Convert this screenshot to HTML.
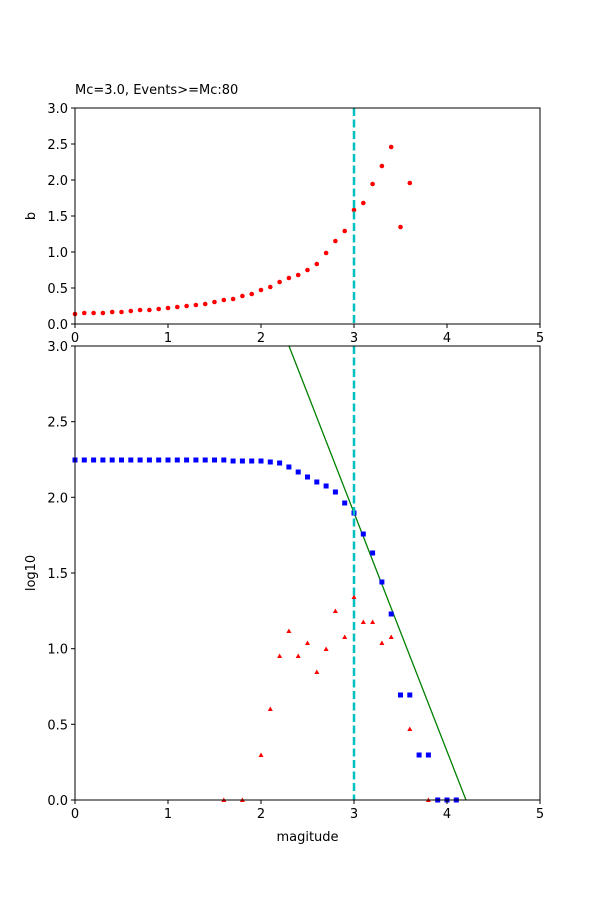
<!DOCTYPE html>
<html><head><meta charset="utf-8"><style>body{margin:0;background:#fff}svg{display:block}text{font-family:"DejaVu Sans","Liberation Sans",sans-serif;font-size:13px;fill:#000}</style></head><body>
<svg width="600" height="900" viewBox="0 0 600 900" xmlns="http://www.w3.org/2000/svg">
<rect width="600" height="900" fill="#fff"/>
<text x="75" y="94">Mc=3.0, Events&gt;=Mc:80</text>
<g id="top">
<g fill="red">
<circle cx="75" cy="314" r="2.3"/><circle cx="84.3" cy="313" r="2.3"/><circle cx="93.6" cy="313" r="2.3"/><circle cx="102.9" cy="313" r="2.3"/><circle cx="112.2" cy="312" r="2.3"/><circle cx="121.5" cy="312" r="2.3"/><circle cx="130.8" cy="311" r="2.3"/><circle cx="140.1" cy="310" r="2.3"/><circle cx="149.4" cy="310" r="2.3"/><circle cx="158.7" cy="309" r="2.3"/><circle cx="168" cy="308" r="2.3"/><circle cx="177.3" cy="307" r="2.3"/><circle cx="186.6" cy="306" r="2.3"/><circle cx="195.9" cy="305" r="2.3"/><circle cx="205.2" cy="304" r="2.3"/><circle cx="214.5" cy="302" r="2.3"/><circle cx="223.8" cy="300" r="2.3"/><circle cx="233.1" cy="299" r="2.3"/><circle cx="242.4" cy="296" r="2.3"/><circle cx="251.7" cy="294" r="2.3"/><circle cx="261" cy="290" r="2.3"/><circle cx="270.3" cy="287" r="2.3"/><circle cx="279.6" cy="282" r="2.3"/><circle cx="288.9" cy="278" r="2.3"/><circle cx="298.2" cy="275" r="2.3"/><circle cx="307.5" cy="270" r="2.3"/><circle cx="316.8" cy="264" r="2.3"/><circle cx="326.1" cy="253" r="2.3"/><circle cx="335.4" cy="241" r="2.3"/><circle cx="344.7" cy="231" r="2.3"/><circle cx="354" cy="210" r="2.3"/><circle cx="363.3" cy="203" r="2.3"/><circle cx="372.6" cy="184" r="2.3"/><circle cx="381.9" cy="166" r="2.3"/><circle cx="391.2" cy="147" r="2.3"/><circle cx="400.5" cy="227" r="2.3"/><circle cx="409.8" cy="183" r="2.3"/>
</g>
<line x1="354" y1="108" x2="354" y2="324" stroke="#00bfbf" stroke-width="2.5" stroke-dasharray="8,3.5"/>
<rect x="75" y="108" width="465" height="216" fill="none" stroke="#000" stroke-width="1"/>
<g stroke="#000"><line x1="75" y1="324" x2="75" y2="328"/><line x1="168" y1="324" x2="168" y2="328"/><line x1="261" y1="324" x2="261" y2="328"/><line x1="354" y1="324" x2="354" y2="328"/><line x1="447" y1="324" x2="447" y2="328"/><line x1="540" y1="324" x2="540" y2="328"/>
<line x1="71" y1="108" x2="75" y2="108"/><line x1="71" y1="144" x2="75" y2="144"/><line x1="71" y1="180" x2="75" y2="180"/><line x1="71" y1="216" x2="75" y2="216"/><line x1="71" y1="252" x2="75" y2="252"/><line x1="71" y1="288" x2="75" y2="288"/><line x1="71" y1="324" x2="75" y2="324"/></g>
<g text-anchor="end"><text x="68" y="113">3.0</text><text x="68" y="149">2.5</text><text x="68" y="185">2.0</text><text x="68" y="221">1.5</text><text x="68" y="257">1.0</text><text x="68" y="293">0.5</text><text x="68" y="329">0.0</text></g>
<g text-anchor="middle"><text x="75" y="342">0</text><text x="168" y="342">1</text><text x="261" y="342">2</text><text x="354" y="342">3</text><text x="447" y="342">4</text><text x="540" y="342">5</text></g>
<text transform="translate(35,216) rotate(-90)" text-anchor="middle">b</text>
</g>
<svg x="75" y="346" width="465" height="454" overflow="hidden"><line x1="214" y1="0" x2="391" y2="454" stroke="green" stroke-width="1.3"/></svg>
<g fill="blue">
<rect x="72.5" y="457.5" width="5" height="5"/><rect x="81.8" y="457.5" width="5" height="5"/><rect x="91.1" y="457.5" width="5" height="5"/><rect x="100.4" y="457.5" width="5" height="5"/><rect x="109.7" y="457.5" width="5" height="5"/><rect x="119" y="457.5" width="5" height="5"/><rect x="128.3" y="457.5" width="5" height="5"/><rect x="137.6" y="457.5" width="5" height="5"/><rect x="146.9" y="457.5" width="5" height="5"/><rect x="156.2" y="457.5" width="5" height="5"/><rect x="165.5" y="457.5" width="5" height="5"/><rect x="174.8" y="457.5" width="5" height="5"/><rect x="184.1" y="457.5" width="5" height="5"/><rect x="193.4" y="457.5" width="5" height="5"/><rect x="202.7" y="457.5" width="5" height="5"/><rect x="212" y="457.5" width="5" height="5"/><rect x="221.3" y="457.5" width="5" height="5"/><rect x="230.6" y="458.5" width="5" height="5"/><rect x="239.9" y="458.5" width="5" height="5"/><rect x="249.2" y="458.5" width="5" height="5"/><rect x="258.5" y="458.5" width="5" height="5"/><rect x="267.8" y="459.5" width="5" height="5"/><rect x="277.1" y="460.5" width="5" height="5"/><rect x="286.4" y="464.5" width="5" height="5"/><rect x="295.7" y="469.5" width="5" height="5"/><rect x="305" y="474.5" width="5" height="5"/><rect x="314.3" y="479.5" width="5" height="5"/><rect x="323.6" y="483.5" width="5" height="5"/><rect x="332.9" y="489.5" width="5" height="5"/><rect x="342.2" y="500.5" width="5" height="5"/><rect x="351.5" y="510.5" width="5" height="5"/><rect x="360.8" y="531.5" width="5" height="5"/><rect x="370.1" y="550.5" width="5" height="5"/><rect x="379.4" y="579.5" width="5" height="5"/><rect x="388.7" y="611.5" width="5" height="5"/><rect x="398" y="692.5" width="5" height="5"/><rect x="407.3" y="692.5" width="5" height="5"/><rect x="416.6" y="752.5" width="5" height="5"/><rect x="425.9" y="752.5" width="5" height="5"/><rect x="435.2" y="797.5" width="5" height="5"/><rect x="444.5" y="797.5" width="5" height="5"/><rect x="453.8" y="797.5" width="5" height="5"/>
</g>
<g fill="red">
<path d="M223.8,797.5l2.5,4.5h-5z"/><path d="M242.4,797.5l2.5,4.5h-5z"/><path d="M261,752.5l2.5,4.5h-5z"/><path d="M270.3,706.5l2.5,4.5h-5z"/><path d="M279.6,653.5l2.5,4.5h-5z"/><path d="M288.9,628.5l2.5,4.5h-5z"/><path d="M298.2,653.5l2.5,4.5h-5z"/><path d="M307.5,640.5l2.5,4.5h-5z"/><path d="M316.8,669.5l2.5,4.5h-5z"/><path d="M326.1,646.5l2.5,4.5h-5z"/><path d="M335.4,608.5l2.5,4.5h-5z"/><path d="M344.7,634.5l2.5,4.5h-5z"/><path d="M354,594.5l2.5,4.5h-5z"/><path d="M363.3,619.5l2.5,4.5h-5z"/><path d="M372.6,619.5l2.5,4.5h-5z"/><path d="M381.9,640.5l2.5,4.5h-5z"/><path d="M391.2,634.5l2.5,4.5h-5z"/><path d="M409.8,726.5l2.5,4.5h-5z"/><path d="M428.4,797.5l2.5,4.5h-5z"/>
</g>
<line x1="354" y1="346" x2="354" y2="800" stroke="#00bfbf" stroke-width="2.5" stroke-dasharray="8,3.5"/>
<rect x="75" y="346" width="465" height="454" fill="none" stroke="#000" stroke-width="1"/>
<g stroke="#000"><line x1="75" y1="800" x2="75" y2="804"/><line x1="168" y1="800" x2="168" y2="804"/><line x1="261" y1="800" x2="261" y2="804"/><line x1="354" y1="800" x2="354" y2="804"/><line x1="447" y1="800" x2="447" y2="804"/><line x1="540" y1="800" x2="540" y2="804"/>
<line x1="71" y1="346" x2="75" y2="346"/><line x1="71" y1="421.7" x2="75" y2="421.7"/><line x1="71" y1="497.3" x2="75" y2="497.3"/><line x1="71" y1="573" x2="75" y2="573"/><line x1="71" y1="648.7" x2="75" y2="648.7"/><line x1="71" y1="724.3" x2="75" y2="724.3"/><line x1="71" y1="800" x2="75" y2="800"/></g>
<g text-anchor="end"><text x="68" y="351">3.0</text><text x="68" y="426.7">2.5</text><text x="68" y="502.3">2.0</text><text x="68" y="578">1.5</text><text x="68" y="653.7">1.0</text><text x="68" y="729.3">0.5</text><text x="68" y="805">0.0</text></g>
<g text-anchor="middle"><text x="75" y="818">0</text><text x="168" y="818">1</text><text x="261" y="818">2</text><text x="354" y="818">3</text><text x="447" y="818">4</text><text x="540" y="818">5</text></g>
<text x="307.5" y="841" text-anchor="middle">magitude</text>
<text transform="translate(35,573) rotate(-90)" text-anchor="middle">log10</text>
</svg>
</body></html>
